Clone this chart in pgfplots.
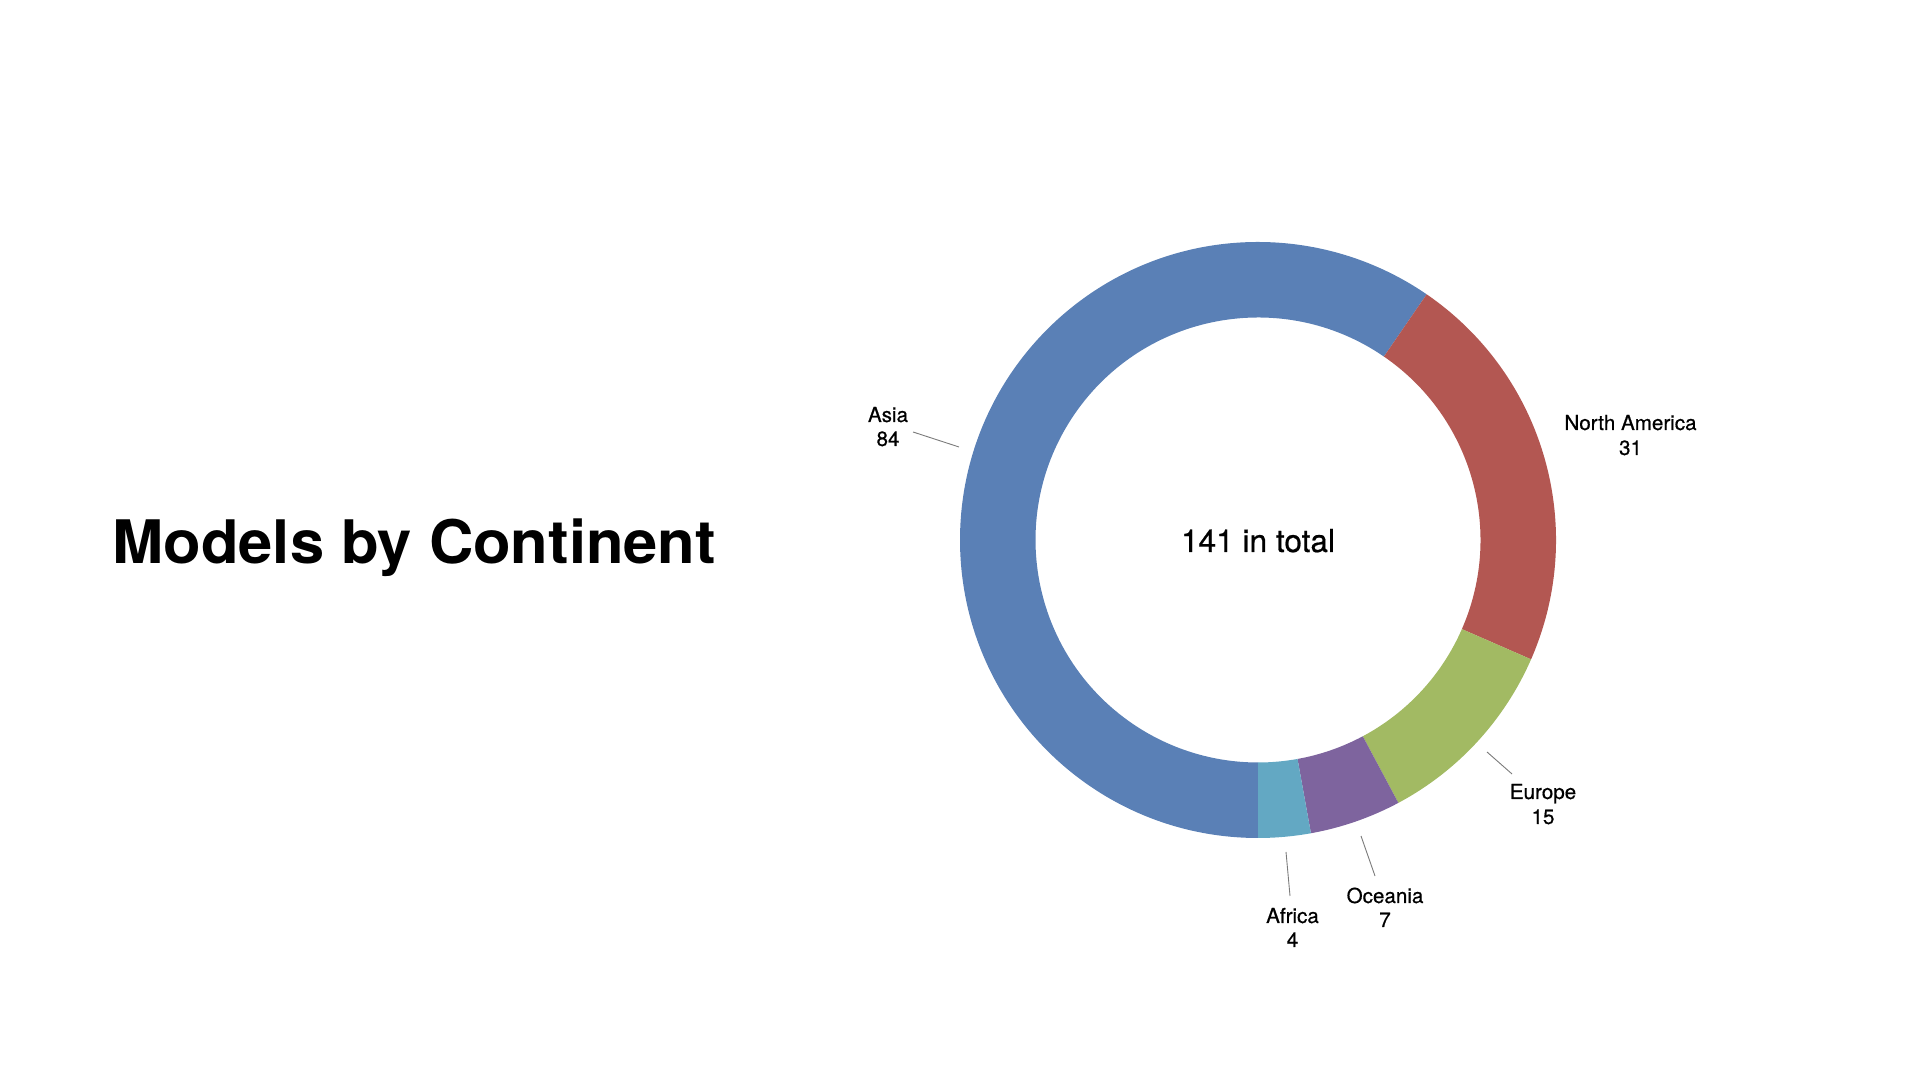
\documentclass[border=0pt]{standalone}
\usepackage{pgfplots}
\pgfplotsset{compat=1.18}
\usepackage{fontspec}
\setmainfont{TeX Gyre Heros}
\newfontfamily\medfont[FakeBold=0.6]{TeX Gyre Heros}
\usepackage{graphicx}
\definecolor{cAsia}{HTML}{5A80B6}
\definecolor{cNA}{HTML}{B35752}
\definecolor{cEU}{HTML}{A2BA63}
\definecolor{cOC}{HTML}{7E649E}
\definecolor{cAF}{HTML}{63A8C3}
\definecolor{cLine}{HTML}{7A7A7A}
\begin{document}
\begin{tikzpicture}
% data
\def\vAsia{84}\def\vNA{31}\def\vEU{15}\def\vOC{7}\def\vAF{4}
\pgfmathsetmacro{\total}{\vAsia+\vNA+\vEU+\vOC+\vAF}
\pgfmathsetmacro{\aA}{270}
\pgfmathsetmacro{\aB}{\aA-\vAsia/\total*360}
\pgfmathsetmacro{\aC}{\aB-\vNA/\total*360}
\pgfmathsetmacro{\aD}{\aC-\vEU/\total*360}
\pgfmathsetmacro{\aE}{\aD-\vOC/\total*360}
\pgfmathsetmacro{\aF}{\aE-\vAF/\total*360}
\def\Ro{149pt}\def\Ri{111.25pt}
\newcommand{\sector}[3]{%
  \fill[#3] ([shift={(#1:\Ro)}]axis cs:1258,540) arc[start angle=#1, end angle=#2, radius=\Ro]
    -- ([shift={(#2:\Ri)}]axis cs:1258,540) arc[start angle=#2, end angle=#1, radius=\Ri] -- cycle;}
\begin{axis}[width=960pt,height=540pt,scale only axis,
  xmin=0,xmax=1920,ymin=0,ymax=1080,hide axis,clip=false]
\sector{\aA}{\aB}{cAsia}
\sector{\aB}{\aC}{cNA}
\sector{\aC}{\aD}{cEU}
\sector{\aD}{\aE}{cOC}
\sector{\aE}{\aF}{cAF}
% leader lines
\draw[cLine,line width=0.45pt] (axis cs:913,648) -- (axis cs:959,633);
\draw[cLine,line width=0.45pt] (axis cs:1487,328) -- (axis cs:1512,306);
\draw[cLine,line width=0.45pt] (axis cs:1361,244) -- (axis cs:1375,204);
\draw[cLine,line width=0.45pt] (axis cs:1286,228) -- (axis cs:1290,184);
% labels
\begin{scope}[every node/.style={anchor=base,inner sep=0pt,font=\medfont\fontsize{10.3}{12}\selectfont}]
\node at (axis cs:888,658) {Asia};
\node at (axis cs:888,634) {\vAsia};
\node at (axis cs:1630.5,650) {North America};
\node at (axis cs:1630.5,625) {\vNA};
\node at (axis cs:1543,281) {Europe};
\node at (axis cs:1543,256) {\vEU};
\node at (axis cs:1385,177) {Oceania};
\node at (axis cs:1385,153) {\vOC};
\node at (axis cs:1292.5,157) {Africa};
\node at (axis cs:1292.5,133) {\vAF};
\end{scope}
\node[anchor=base,inner sep=0pt,font=\medfont\fontsize{15.8}{19}\selectfont] at (axis cs:1258,528) {141 in total};
\node[anchor=base west,inner sep=0pt] at (axis cs:112,516) {\scalebox{1.025}[1]{\fontsize{30}{36}\selectfont\bfseries Models by Continent}};
\end{axis}
\path (current axis.south west) rectangle (current axis.north east);
\end{tikzpicture}
\end{document}
